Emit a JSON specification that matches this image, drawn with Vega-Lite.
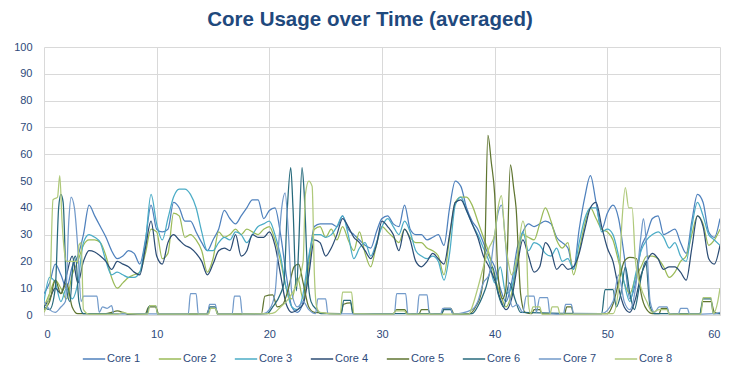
{
"$schema":"https://vega.github.io/schema/vega-lite/v6.json",
"autosize":{"type":"none"},
"width":676,"height":268,
"padding":{"left":44,"top":47,"right":26,"bottom":72},
"background":"white",
"title":{"text":"Core Usage over Time (averaged)","fontSize":20.5,"font":"Liberation Sans, sans-serif","fontWeight":"bold","color":"#1F497D","anchor":"middle","offset":11,"dx":-12},
"data":{"values":[
{"x":0,"c":"Core 1","v":8},{"x":0.5,"c":"Core 1","v":12},{"x":1,"c":"Core 1","v":19},{"x":1.5,"c":"Core 1","v":15},{"x":2,"c":"Core 1","v":10},{"x":2.5,"c":"Core 1","v":18},{"x":3,"c":"Core 1","v":22},{"x":3.5,"c":"Core 1","v":30},{"x":4,"c":"Core 1","v":41},{"x":4.5,"c":"Core 1","v":37},{"x":5,"c":"Core 1","v":33},{"x":5.5,"c":"Core 1","v":29},{"x":6,"c":"Core 1","v":24},{"x":6.5,"c":"Core 1","v":21},{"x":7,"c":"Core 1","v":22},{"x":7.5,"c":"Core 1","v":24},{"x":8,"c":"Core 1","v":23},{"x":8.5,"c":"Core 1","v":19},{"x":9,"c":"Core 1","v":28},{"x":9.5,"c":"Core 1","v":41},{"x":10,"c":"Core 1","v":32},{"x":10.5,"c":"Core 1","v":31},{"x":11,"c":"Core 1","v":32},{"x":11.5,"c":"Core 1","v":42},{"x":12,"c":"Core 1","v":40},{"x":12.5,"c":"Core 1","v":35},{"x":13,"c":"Core 1","v":35},{"x":13.5,"c":"Core 1","v":31},{"x":14,"c":"Core 1","v":27},{"x":14.5,"c":"Core 1","v":24},{"x":15,"c":"Core 1","v":28},{"x":15.5,"c":"Core 1","v":32},{"x":16,"c":"Core 1","v":39},{"x":16.5,"c":"Core 1","v":36},{"x":17,"c":"Core 1","v":34},{"x":17.5,"c":"Core 1","v":37},{"x":18,"c":"Core 1","v":40},{"x":18.5,"c":"Core 1","v":43},{"x":19,"c":"Core 1","v":43},{"x":19.5,"c":"Core 1","v":36},{"x":20,"c":"Core 1","v":39},{"x":20.5,"c":"Core 1","v":40},{"x":21,"c":"Core 1","v":30},{"x":21.5,"c":"Core 1","v":15},{"x":22,"c":"Core 1","v":3},{"x":22.5,"c":"Core 1","v":1},{"x":23,"c":"Core 1","v":5},{"x":23.5,"c":"Core 1","v":20},{"x":24,"c":"Core 1","v":33},{"x":24.5,"c":"Core 1","v":34},{"x":25,"c":"Core 1","v":34},{"x":25.5,"c":"Core 1","v":34},{"x":26,"c":"Core 1","v":33},{"x":26.5,"c":"Core 1","v":37},{"x":27,"c":"Core 1","v":32},{"x":27.5,"c":"Core 1","v":30},{"x":28,"c":"Core 1","v":28},{"x":28.5,"c":"Core 1","v":26},{"x":29,"c":"Core 1","v":25},{"x":29.5,"c":"Core 1","v":31},{"x":30,"c":"Core 1","v":36},{"x":30.5,"c":"Core 1","v":37},{"x":31,"c":"Core 1","v":34},{"x":31.5,"c":"Core 1","v":33},{"x":32,"c":"Core 1","v":41},{"x":32.5,"c":"Core 1","v":32},{"x":33,"c":"Core 1","v":30},{"x":33.5,"c":"Core 1","v":30},{"x":34,"c":"Core 1","v":28},{"x":34.5,"c":"Core 1","v":29},{"x":35,"c":"Core 1","v":30},{"x":35.5,"c":"Core 1","v":26},{"x":36,"c":"Core 1","v":40},{"x":36.5,"c":"Core 1","v":50},{"x":37,"c":"Core 1","v":48},{"x":37.5,"c":"Core 1","v":40},{"x":38,"c":"Core 1","v":35},{"x":38.5,"c":"Core 1","v":32},{"x":39,"c":"Core 1","v":27},{"x":39.5,"c":"Core 1","v":22},{"x":40,"c":"Core 1","v":18},{"x":40.5,"c":"Core 1","v":10},{"x":41,"c":"Core 1","v":5},{"x":41.5,"c":"Core 1","v":12},{"x":42,"c":"Core 1","v":25},{"x":42.5,"c":"Core 1","v":31},{"x":43,"c":"Core 1","v":34},{"x":43.5,"c":"Core 1","v":33},{"x":44,"c":"Core 1","v":34},{"x":44.5,"c":"Core 1","v":35},{"x":45,"c":"Core 1","v":34},{"x":45.5,"c":"Core 1","v":29},{"x":46,"c":"Core 1","v":27},{"x":46.5,"c":"Core 1","v":25},{"x":47,"c":"Core 1","v":17},{"x":47.5,"c":"Core 1","v":32},{"x":48,"c":"Core 1","v":44},{"x":48.5,"c":"Core 1","v":52},{"x":49,"c":"Core 1","v":42},{"x":49.5,"c":"Core 1","v":32},{"x":50,"c":"Core 1","v":38},{"x":50.5,"c":"Core 1","v":41},{"x":51,"c":"Core 1","v":36},{"x":51.5,"c":"Core 1","v":22},{"x":52,"c":"Core 1","v":6},{"x":52.5,"c":"Core 1","v":12},{"x":53,"c":"Core 1","v":25},{"x":53.5,"c":"Core 1","v":30},{"x":54,"c":"Core 1","v":36},{"x":54.5,"c":"Core 1","v":37},{"x":55,"c":"Core 1","v":30},{"x":55.5,"c":"Core 1","v":31},{"x":56,"c":"Core 1","v":32},{"x":56.5,"c":"Core 1","v":27},{"x":57,"c":"Core 1","v":23},{"x":57.5,"c":"Core 1","v":35},{"x":58,"c":"Core 1","v":45},{"x":58.5,"c":"Core 1","v":42},{"x":59,"c":"Core 1","v":31},{"x":59.5,"c":"Core 1","v":29},{"x":60,"c":"Core 1","v":36},

{"x":0,"c":"Core 2","v":3},{"x":0.5,"c":"Core 2","v":8},{"x":1,"c":"Core 2","v":13},{"x":1.5,"c":"Core 2","v":10},{"x":2,"c":"Core 2","v":6},{"x":2.5,"c":"Core 2","v":15},{"x":3,"c":"Core 2","v":20},{"x":3.5,"c":"Core 2","v":26},{"x":4,"c":"Core 2","v":28},{"x":4.5,"c":"Core 2","v":28},{"x":5,"c":"Core 2","v":27},{"x":5.5,"c":"Core 2","v":22},{"x":6,"c":"Core 2","v":14},{"x":6.5,"c":"Core 2","v":10},{"x":7,"c":"Core 2","v":12},{"x":7.5,"c":"Core 2","v":14},{"x":8,"c":"Core 2","v":15},{"x":8.5,"c":"Core 2","v":16},{"x":9,"c":"Core 2","v":23},{"x":9.5,"c":"Core 2","v":32},{"x":10,"c":"Core 2","v":31},{"x":10.5,"c":"Core 2","v":21},{"x":11,"c":"Core 2","v":23},{"x":11.5,"c":"Core 2","v":38},{"x":12,"c":"Core 2","v":37},{"x":12.5,"c":"Core 2","v":29},{"x":13,"c":"Core 2","v":30},{"x":13.5,"c":"Core 2","v":28},{"x":14,"c":"Core 2","v":24},{"x":14.5,"c":"Core 2","v":16},{"x":15,"c":"Core 2","v":21},{"x":15.5,"c":"Core 2","v":31},{"x":16,"c":"Core 2","v":29},{"x":16.5,"c":"Core 2","v":30},{"x":17,"c":"Core 2","v":32},{"x":17.5,"c":"Core 2","v":30},{"x":18,"c":"Core 2","v":32},{"x":18.5,"c":"Core 2","v":31},{"x":19,"c":"Core 2","v":30},{"x":19.5,"c":"Core 2","v":32},{"x":20,"c":"Core 2","v":33},{"x":20.5,"c":"Core 2","v":28},{"x":21,"c":"Core 2","v":20},{"x":21.5,"c":"Core 2","v":10},{"x":22,"c":"Core 2","v":6},{"x":22.5,"c":"Core 2","v":14},{"x":23,"c":"Core 2","v":6},{"x":23.5,"c":"Core 2","v":18},{"x":24,"c":"Core 2","v":32},{"x":24.5,"c":"Core 2","v":33},{"x":25,"c":"Core 2","v":29},{"x":25.5,"c":"Core 2","v":32},{"x":26,"c":"Core 2","v":28},{"x":26.5,"c":"Core 2","v":33},{"x":27,"c":"Core 2","v":28},{"x":27.5,"c":"Core 2","v":24},{"x":28,"c":"Core 2","v":31},{"x":28.5,"c":"Core 2","v":23},{"x":29,"c":"Core 2","v":18},{"x":29.5,"c":"Core 2","v":26},{"x":30,"c":"Core 2","v":33},{"x":30.5,"c":"Core 2","v":31},{"x":31,"c":"Core 2","v":29},{"x":31.5,"c":"Core 2","v":27},{"x":32,"c":"Core 2","v":32},{"x":32.5,"c":"Core 2","v":29},{"x":33,"c":"Core 2","v":27},{"x":33.5,"c":"Core 2","v":27},{"x":34,"c":"Core 2","v":25},{"x":34.5,"c":"Core 2","v":24},{"x":35,"c":"Core 2","v":22},{"x":35.5,"c":"Core 2","v":15},{"x":36,"c":"Core 2","v":29},{"x":36.5,"c":"Core 2","v":42},{"x":37,"c":"Core 2","v":44},{"x":37.5,"c":"Core 2","v":44},{"x":38,"c":"Core 2","v":41},{"x":38.5,"c":"Core 2","v":35},{"x":39,"c":"Core 2","v":29},{"x":39.5,"c":"Core 2","v":23},{"x":40,"c":"Core 2","v":14},{"x":40.5,"c":"Core 2","v":8},{"x":41,"c":"Core 2","v":3},{"x":41.5,"c":"Core 2","v":8},{"x":42,"c":"Core 2","v":20},{"x":42.5,"c":"Core 2","v":30},{"x":43,"c":"Core 2","v":29},{"x":43.5,"c":"Core 2","v":28},{"x":44,"c":"Core 2","v":34},{"x":44.5,"c":"Core 2","v":40},{"x":45,"c":"Core 2","v":35},{"x":45.5,"c":"Core 2","v":28},{"x":46,"c":"Core 2","v":25},{"x":46.5,"c":"Core 2","v":27},{"x":47,"c":"Core 2","v":15},{"x":47.5,"c":"Core 2","v":24},{"x":48,"c":"Core 2","v":34},{"x":48.5,"c":"Core 2","v":40},{"x":49,"c":"Core 2","v":36},{"x":49.5,"c":"Core 2","v":32},{"x":50,"c":"Core 2","v":31},{"x":50.5,"c":"Core 2","v":28},{"x":51,"c":"Core 2","v":20},{"x":51.5,"c":"Core 2","v":12},{"x":52,"c":"Core 2","v":8},{"x":52.5,"c":"Core 2","v":14},{"x":53,"c":"Core 2","v":18},{"x":53.5,"c":"Core 2","v":22},{"x":54,"c":"Core 2","v":22},{"x":54.5,"c":"Core 2","v":21},{"x":55,"c":"Core 2","v":18},{"x":55.5,"c":"Core 2","v":14},{"x":56,"c":"Core 2","v":16},{"x":56.5,"c":"Core 2","v":20},{"x":57,"c":"Core 2","v":22},{"x":57.5,"c":"Core 2","v":30},{"x":58,"c":"Core 2","v":37},{"x":58.5,"c":"Core 2","v":34},{"x":59,"c":"Core 2","v":26},{"x":59.5,"c":"Core 2","v":28},{"x":60,"c":"Core 2","v":32},

{"x":0,"c":"Core 3","v":5},{"x":0.5,"c":"Core 3","v":14},{"x":1,"c":"Core 3","v":12},{"x":1.5,"c":"Core 3","v":5},{"x":2,"c":"Core 3","v":10},{"x":2.5,"c":"Core 3","v":6},{"x":3,"c":"Core 3","v":12},{"x":3.5,"c":"Core 3","v":27},{"x":4,"c":"Core 3","v":30},{"x":4.5,"c":"Core 3","v":29},{"x":5,"c":"Core 3","v":27},{"x":5.5,"c":"Core 3","v":20},{"x":6,"c":"Core 3","v":15},{"x":6.5,"c":"Core 3","v":16},{"x":7,"c":"Core 3","v":15},{"x":7.5,"c":"Core 3","v":14},{"x":8,"c":"Core 3","v":14},{"x":8.5,"c":"Core 3","v":16},{"x":9,"c":"Core 3","v":27},{"x":9.5,"c":"Core 3","v":45},{"x":10,"c":"Core 3","v":34},{"x":10.5,"c":"Core 3","v":28},{"x":11,"c":"Core 3","v":36},{"x":11.5,"c":"Core 3","v":44},{"x":12,"c":"Core 3","v":47},{"x":12.5,"c":"Core 3","v":47},{"x":13,"c":"Core 3","v":45},{"x":13.5,"c":"Core 3","v":40},{"x":14,"c":"Core 3","v":31},{"x":14.5,"c":"Core 3","v":24},{"x":15,"c":"Core 3","v":24},{"x":15.5,"c":"Core 3","v":27},{"x":16,"c":"Core 3","v":29},{"x":16.5,"c":"Core 3","v":28},{"x":17,"c":"Core 3","v":31},{"x":17.5,"c":"Core 3","v":30},{"x":18,"c":"Core 3","v":27},{"x":18.5,"c":"Core 3","v":30},{"x":19,"c":"Core 3","v":33},{"x":19.5,"c":"Core 3","v":34},{"x":20,"c":"Core 3","v":35},{"x":20.5,"c":"Core 3","v":30},{"x":21,"c":"Core 3","v":22},{"x":21.5,"c":"Core 3","v":10},{"x":22,"c":"Core 3","v":3},{"x":22.5,"c":"Core 3","v":2},{"x":23,"c":"Core 3","v":8},{"x":23.5,"c":"Core 3","v":22},{"x":24,"c":"Core 3","v":30},{"x":24.5,"c":"Core 3","v":30},{"x":25,"c":"Core 3","v":29},{"x":25.5,"c":"Core 3","v":30},{"x":26,"c":"Core 3","v":33},{"x":26.5,"c":"Core 3","v":37},{"x":27,"c":"Core 3","v":30},{"x":27.5,"c":"Core 3","v":21},{"x":28,"c":"Core 3","v":25},{"x":28.5,"c":"Core 3","v":27},{"x":29,"c":"Core 3","v":22},{"x":29.5,"c":"Core 3","v":27},{"x":30,"c":"Core 3","v":33},{"x":30.5,"c":"Core 3","v":36},{"x":31,"c":"Core 3","v":33},{"x":31.5,"c":"Core 3","v":30},{"x":32,"c":"Core 3","v":35},{"x":32.5,"c":"Core 3","v":31},{"x":33,"c":"Core 3","v":24},{"x":33.5,"c":"Core 3","v":22},{"x":34,"c":"Core 3","v":21},{"x":34.5,"c":"Core 3","v":22},{"x":35,"c":"Core 3","v":20},{"x":35.5,"c":"Core 3","v":13},{"x":36,"c":"Core 3","v":23},{"x":36.5,"c":"Core 3","v":41},{"x":37,"c":"Core 3","v":44},{"x":37.5,"c":"Core 3","v":39},{"x":38,"c":"Core 3","v":34},{"x":38.5,"c":"Core 3","v":30},{"x":39,"c":"Core 3","v":25},{"x":39.5,"c":"Core 3","v":20},{"x":40,"c":"Core 3","v":12},{"x":40.5,"c":"Core 3","v":18},{"x":41,"c":"Core 3","v":8},{"x":41.5,"c":"Core 3","v":10},{"x":42,"c":"Core 3","v":22},{"x":42.5,"c":"Core 3","v":31},{"x":43,"c":"Core 3","v":24},{"x":43.5,"c":"Core 3","v":27},{"x":44,"c":"Core 3","v":26},{"x":44.5,"c":"Core 3","v":23},{"x":45,"c":"Core 3","v":22},{"x":45.5,"c":"Core 3","v":25},{"x":46,"c":"Core 3","v":20},{"x":46.5,"c":"Core 3","v":21},{"x":47,"c":"Core 3","v":17},{"x":47.5,"c":"Core 3","v":27},{"x":48,"c":"Core 3","v":36},{"x":48.5,"c":"Core 3","v":40},{"x":49,"c":"Core 3","v":40},{"x":49.5,"c":"Core 3","v":31},{"x":50,"c":"Core 3","v":32},{"x":50.5,"c":"Core 3","v":30},{"x":51,"c":"Core 3","v":22},{"x":51.5,"c":"Core 3","v":12},{"x":52,"c":"Core 3","v":5},{"x":52.5,"c":"Core 3","v":15},{"x":53,"c":"Core 3","v":24},{"x":53.5,"c":"Core 3","v":28},{"x":54,"c":"Core 3","v":30},{"x":54.5,"c":"Core 3","v":31},{"x":55,"c":"Core 3","v":29},{"x":55.5,"c":"Core 3","v":25},{"x":56,"c":"Core 3","v":27},{"x":56.5,"c":"Core 3","v":22},{"x":57,"c":"Core 3","v":20},{"x":57.5,"c":"Core 3","v":33},{"x":58,"c":"Core 3","v":42},{"x":58.5,"c":"Core 3","v":37},{"x":59,"c":"Core 3","v":30},{"x":59.5,"c":"Core 3","v":28},{"x":60,"c":"Core 3","v":26},

{"x":0,"c":"Core 4","v":3},{"x":0.5,"c":"Core 4","v":6},{"x":1,"c":"Core 4","v":10},{"x":1.5,"c":"Core 4","v":8},{"x":2,"c":"Core 4","v":15},{"x":2.5,"c":"Core 4","v":22},{"x":3,"c":"Core 4","v":12},{"x":3.5,"c":"Core 4","v":20},{"x":4,"c":"Core 4","v":24},{"x":4.5,"c":"Core 4","v":23.5},{"x":5,"c":"Core 4","v":22},{"x":5.5,"c":"Core 4","v":20},{"x":6,"c":"Core 4","v":17},{"x":6.5,"c":"Core 4","v":20},{"x":7,"c":"Core 4","v":19},{"x":7.5,"c":"Core 4","v":18},{"x":8,"c":"Core 4","v":16},{"x":8.5,"c":"Core 4","v":15},{"x":9,"c":"Core 4","v":25},{"x":9.5,"c":"Core 4","v":35},{"x":10,"c":"Core 4","v":22},{"x":10.5,"c":"Core 4","v":19},{"x":11,"c":"Core 4","v":27},{"x":11.5,"c":"Core 4","v":30},{"x":12,"c":"Core 4","v":28},{"x":12.5,"c":"Core 4","v":26},{"x":13,"c":"Core 4","v":25},{"x":13.5,"c":"Core 4","v":23},{"x":14,"c":"Core 4","v":20},{"x":14.5,"c":"Core 4","v":15},{"x":15,"c":"Core 4","v":19},{"x":15.5,"c":"Core 4","v":24},{"x":16,"c":"Core 4","v":25},{"x":16.5,"c":"Core 4","v":24},{"x":17,"c":"Core 4","v":30},{"x":17.5,"c":"Core 4","v":22},{"x":18,"c":"Core 4","v":24},{"x":18.5,"c":"Core 4","v":30},{"x":19,"c":"Core 4","v":29},{"x":19.5,"c":"Core 4","v":29},{"x":20,"c":"Core 4","v":31},{"x":20.5,"c":"Core 4","v":26},{"x":21,"c":"Core 4","v":15},{"x":21.5,"c":"Core 4","v":4},{"x":22,"c":"Core 4","v":1},{"x":22.5,"c":"Core 4","v":2},{"x":23,"c":"Core 4","v":4},{"x":23.5,"c":"Core 4","v":15},{"x":24,"c":"Core 4","v":28},{"x":24.5,"c":"Core 4","v":27},{"x":25,"c":"Core 4","v":22},{"x":25.5,"c":"Core 4","v":25},{"x":26,"c":"Core 4","v":30},{"x":26.5,"c":"Core 4","v":36},{"x":27,"c":"Core 4","v":33},{"x":27.5,"c":"Core 4","v":29},{"x":28,"c":"Core 4","v":27},{"x":28.5,"c":"Core 4","v":24},{"x":29,"c":"Core 4","v":21},{"x":29.5,"c":"Core 4","v":26},{"x":30,"c":"Core 4","v":35},{"x":30.5,"c":"Core 4","v":33},{"x":31,"c":"Core 4","v":30},{"x":31.5,"c":"Core 4","v":24},{"x":32,"c":"Core 4","v":32},{"x":32.5,"c":"Core 4","v":28},{"x":33,"c":"Core 4","v":20},{"x":33.5,"c":"Core 4","v":18},{"x":34,"c":"Core 4","v":20},{"x":34.5,"c":"Core 4","v":23},{"x":35,"c":"Core 4","v":21},{"x":35.5,"c":"Core 4","v":19},{"x":36,"c":"Core 4","v":30},{"x":36.5,"c":"Core 4","v":42},{"x":37,"c":"Core 4","v":43},{"x":37.5,"c":"Core 4","v":39},{"x":38,"c":"Core 4","v":34},{"x":38.5,"c":"Core 4","v":29},{"x":39,"c":"Core 4","v":22},{"x":39.5,"c":"Core 4","v":18},{"x":40,"c":"Core 4","v":13},{"x":40.5,"c":"Core 4","v":6},{"x":41,"c":"Core 4","v":2},{"x":41.5,"c":"Core 4","v":6},{"x":42,"c":"Core 4","v":18},{"x":42.5,"c":"Core 4","v":28},{"x":43,"c":"Core 4","v":22},{"x":43.5,"c":"Core 4","v":16},{"x":44,"c":"Core 4","v":18},{"x":44.5,"c":"Core 4","v":27},{"x":45,"c":"Core 4","v":24},{"x":45.5,"c":"Core 4","v":17},{"x":46,"c":"Core 4","v":19},{"x":46.5,"c":"Core 4","v":17},{"x":47,"c":"Core 4","v":18},{"x":47.5,"c":"Core 4","v":23},{"x":48,"c":"Core 4","v":32},{"x":48.5,"c":"Core 4","v":40},{"x":49,"c":"Core 4","v":42},{"x":49.5,"c":"Core 4","v":33},{"x":50,"c":"Core 4","v":25},{"x":50.5,"c":"Core 4","v":20},{"x":51,"c":"Core 4","v":10},{"x":51.5,"c":"Core 4","v":3},{"x":52,"c":"Core 4","v":1},{"x":52.5,"c":"Core 4","v":6},{"x":53,"c":"Core 4","v":15},{"x":53.5,"c":"Core 4","v":20},{"x":54,"c":"Core 4","v":23},{"x":54.5,"c":"Core 4","v":21},{"x":55,"c":"Core 4","v":17},{"x":55.5,"c":"Core 4","v":18},{"x":56,"c":"Core 4","v":18},{"x":56.5,"c":"Core 4","v":16},{"x":57,"c":"Core 4","v":13},{"x":57.5,"c":"Core 4","v":25},{"x":58,"c":"Core 4","v":37},{"x":58.5,"c":"Core 4","v":33},{"x":59,"c":"Core 4","v":21},{"x":59.5,"c":"Core 4","v":19},{"x":60,"c":"Core 4","v":26},

{"x":0,"c":"Core 5","v":2},{"x":0.5,"c":"Core 5","v":5},{"x":1,"c":"Core 5","v":13},{"x":1.5,"c":"Core 5","v":8},{"x":2,"c":"Core 5","v":12},{"x":2.5,"c":"Core 5","v":3},{"x":3,"c":"Core 5","v":0.5},{"x":4,"c":"Core 5","v":0.5},{"x":5.5,"c":"Core 5","v":0.5},{"x":6,"c":"Core 5","v":1},{"x":6.5,"c":"Core 5","v":1.5},{"x":7,"c":"Core 5","v":1},{"x":7.5,"c":"Core 5","v":0.2},{"x":9,"c":"Core 5","v":0.5},{"x":9.3,"c":"Core 5","v":3},{"x":9.9,"c":"Core 5","v":3},{"x":10.2,"c":"Core 5","v":0.3},{"x":14.4,"c":"Core 5","v":0.3},{"x":14.7,"c":"Core 5","v":2.5},{"x":15.2,"c":"Core 5","v":2.5},{"x":15.5,"c":"Core 5","v":0.3},{"x":19.3,"c":"Core 5","v":0.5},{"x":19.6,"c":"Core 5","v":7},{"x":20.3,"c":"Core 5","v":7.5},{"x":20.7,"c":"Core 5","v":3},{"x":21.2,"c":"Core 5","v":4},{"x":21.7,"c":"Core 5","v":10},{"x":22.2,"c":"Core 5","v":18},{"x":22.6,"c":"Core 5","v":19},{"x":23,"c":"Core 5","v":12},{"x":23.5,"c":"Core 5","v":3},{"x":24,"c":"Core 5","v":1},{"x":26.3,"c":"Core 5","v":0.5},{"x":26.6,"c":"Core 5","v":4},{"x":27.2,"c":"Core 5","v":4.5},{"x":27.5,"c":"Core 5","v":0.5},{"x":31,"c":"Core 5","v":0.5},{"x":31.3,"c":"Core 5","v":2},{"x":32,"c":"Core 5","v":2},{"x":32.3,"c":"Core 5","v":0.5},{"x":33.3,"c":"Core 5","v":0.5},{"x":33.5,"c":"Core 5","v":2},{"x":34.1,"c":"Core 5","v":2},{"x":34.3,"c":"Core 5","v":0.3},{"x":35.3,"c":"Core 5","v":0.3},{"x":35.5,"c":"Core 5","v":2.5},{"x":36.1,"c":"Core 5","v":2.5},{"x":36.4,"c":"Core 5","v":0.3},{"x":37.8,"c":"Core 5","v":0.5},{"x":38.3,"c":"Core 5","v":3},{"x":38.8,"c":"Core 5","v":8},{"x":39.1,"c":"Core 5","v":20},{"x":39.4,"c":"Core 5","v":67},{"x":39.7,"c":"Core 5","v":57},{"x":40,"c":"Core 5","v":45},{"x":40.3,"c":"Core 5","v":15},{"x":40.7,"c":"Core 5","v":6},{"x":41,"c":"Core 5","v":10},{"x":41.4,"c":"Core 5","v":56},{"x":41.7,"c":"Core 5","v":47},{"x":41.9,"c":"Core 5","v":40},{"x":42.3,"c":"Core 5","v":8},{"x":42.7,"c":"Core 5","v":1},{"x":43.3,"c":"Core 5","v":0.5},{"x":43.5,"c":"Core 5","v":2},{"x":44,"c":"Core 5","v":2},{"x":44.2,"c":"Core 5","v":0.5},{"x":46.2,"c":"Core 5","v":0.5},{"x":46.4,"c":"Core 5","v":3},{"x":46.8,"c":"Core 5","v":3},{"x":47,"c":"Core 5","v":0.5},{"x":50,"c":"Core 5","v":0.5},{"x":50.5,"c":"Core 5","v":4},{"x":51,"c":"Core 5","v":12},{"x":51.5,"c":"Core 5","v":20},{"x":52,"c":"Core 5","v":21.5},{"x":52.6,"c":"Core 5","v":21},{"x":53,"c":"Core 5","v":8},{"x":53.5,"c":"Core 5","v":2},{"x":54,"c":"Core 5","v":0.5},{"x":54.6,"c":"Core 5","v":0.5},{"x":54.8,"c":"Core 5","v":2.5},{"x":55.3,"c":"Core 5","v":2.5},{"x":55.5,"c":"Core 5","v":0.3},{"x":58.2,"c":"Core 5","v":0.3},{"x":58.5,"c":"Core 5","v":5},{"x":59.2,"c":"Core 5","v":5},{"x":59.5,"c":"Core 5","v":1},{"x":60,"c":"Core 5","v":0.5},

{"x":0,"c":"Core 6","v":3},{"x":0.5,"c":"Core 6","v":2},{"x":1,"c":"Core 6","v":10},{"x":1.3,"c":"Core 6","v":40},{"x":1.5,"c":"Core 6","v":45},{"x":1.7,"c":"Core 6","v":42},{"x":2,"c":"Core 6","v":10},{"x":2.3,"c":"Core 6","v":5},{"x":2.6,"c":"Core 6","v":20},{"x":2.8,"c":"Core 6","v":22},{"x":3.1,"c":"Core 6","v":5},{"x":3.5,"c":"Core 6","v":0.5},{"x":9.1,"c":"Core 6","v":0.5},{"x":9.4,"c":"Core 6","v":3.5},{"x":9.9,"c":"Core 6","v":3.5},{"x":10.1,"c":"Core 6","v":0.3},{"x":14.5,"c":"Core 6","v":0.3},{"x":14.7,"c":"Core 6","v":3},{"x":15.2,"c":"Core 6","v":3},{"x":15.4,"c":"Core 6","v":0.3},{"x":19.8,"c":"Core 6","v":0.5},{"x":20.3,"c":"Core 6","v":3},{"x":21,"c":"Core 6","v":8},{"x":21.3,"c":"Core 6","v":12},{"x":21.6,"c":"Core 6","v":40},{"x":21.9,"c":"Core 6","v":55},{"x":22.1,"c":"Core 6","v":40},{"x":22.4,"c":"Core 6","v":9},{"x":22.6,"c":"Core 6","v":25},{"x":22.9,"c":"Core 6","v":55},{"x":23.1,"c":"Core 6","v":45},{"x":23.4,"c":"Core 6","v":15},{"x":23.7,"c":"Core 6","v":5},{"x":24.2,"c":"Core 6","v":2},{"x":24.6,"c":"Core 6","v":0.5},{"x":26.4,"c":"Core 6","v":0.5},{"x":26.6,"c":"Core 6","v":5.5},{"x":27.2,"c":"Core 6","v":5.5},{"x":27.4,"c":"Core 6","v":0.5},{"x":35.3,"c":"Core 6","v":0.5},{"x":35.5,"c":"Core 6","v":2},{"x":36.1,"c":"Core 6","v":2},{"x":36.3,"c":"Core 6","v":0.3},{"x":38,"c":"Core 6","v":0.5},{"x":38.6,"c":"Core 6","v":4},{"x":39.2,"c":"Core 6","v":10},{"x":39.8,"c":"Core 6","v":18},{"x":40.3,"c":"Core 6","v":8},{"x":40.8,"c":"Core 6","v":3},{"x":41.3,"c":"Core 6","v":12},{"x":41.8,"c":"Core 6","v":6},{"x":42.3,"c":"Core 6","v":1},{"x":49.5,"c":"Core 6","v":0.5},{"x":49.8,"c":"Core 6","v":9.5},{"x":50.5,"c":"Core 6","v":9.5},{"x":50.8,"c":"Core 6","v":3},{"x":51.2,"c":"Core 6","v":8},{"x":51.6,"c":"Core 6","v":18},{"x":52,"c":"Core 6","v":8},{"x":52.4,"c":"Core 6","v":2},{"x":52.9,"c":"Core 6","v":12},{"x":53.4,"c":"Core 6","v":20},{"x":53.8,"c":"Core 6","v":3},{"x":54.2,"c":"Core 6","v":0.5},{"x":58.2,"c":"Core 6","v":0.5},{"x":58.5,"c":"Core 6","v":6},{"x":59.2,"c":"Core 6","v":6},{"x":59.4,"c":"Core 6","v":0.5},{"x":60,"c":"Core 6","v":0.5},

{"x":0,"c":"Core 7","v":5},{"x":0.5,"c":"Core 7","v":2},{"x":1,"c":"Core 7","v":1},{"x":1.5,"c":"Core 7","v":3},{"x":1.9,"c":"Core 7","v":5},{"x":2.2,"c":"Core 7","v":35},{"x":2.4,"c":"Core 7","v":44},{"x":2.7,"c":"Core 7","v":40},{"x":3,"c":"Core 7","v":25},{"x":3.3,"c":"Core 7","v":5},{"x":3.5,"c":"Core 7","v":7},{"x":4.7,"c":"Core 7","v":7},{"x":4.9,"c":"Core 7","v":1},{"x":5.2,"c":"Core 7","v":3},{"x":5.6,"c":"Core 7","v":2.5},{"x":6,"c":"Core 7","v":3.5},{"x":6.2,"c":"Core 7","v":0.5},{"x":12.8,"c":"Core 7","v":0.3},{"x":13,"c":"Core 7","v":8},{"x":13.5,"c":"Core 7","v":8},{"x":13.7,"c":"Core 7","v":0.3},{"x":14.5,"c":"Core 7","v":0.3},{"x":14.7,"c":"Core 7","v":4},{"x":15.2,"c":"Core 7","v":4},{"x":15.4,"c":"Core 7","v":0.3},{"x":16.7,"c":"Core 7","v":0.3},{"x":16.9,"c":"Core 7","v":7},{"x":17.4,"c":"Core 7","v":7},{"x":17.6,"c":"Core 7","v":0.3},{"x":19.5,"c":"Core 7","v":0.5},{"x":20,"c":"Core 7","v":2},{"x":20.5,"c":"Core 7","v":8},{"x":20.8,"c":"Core 7","v":25},{"x":21.1,"c":"Core 7","v":40},{"x":21.4,"c":"Core 7","v":45.6},{"x":21.7,"c":"Core 7","v":30},{"x":22,"c":"Core 7","v":8},{"x":22.5,"c":"Core 7","v":3},{"x":23,"c":"Core 7","v":5},{"x":23.5,"c":"Core 7","v":2},{"x":24.1,"c":"Core 7","v":0.5},{"x":24.3,"c":"Core 7","v":6},{"x":25,"c":"Core 7","v":6},{"x":25.2,"c":"Core 7","v":0.5},{"x":31.1,"c":"Core 7","v":0.3},{"x":31.3,"c":"Core 7","v":8},{"x":32.1,"c":"Core 7","v":8},{"x":32.3,"c":"Core 7","v":0.5},{"x":33.1,"c":"Core 7","v":0.3},{"x":33.3,"c":"Core 7","v":7.5},{"x":34,"c":"Core 7","v":7.5},{"x":34.2,"c":"Core 7","v":0.5},{"x":35.2,"c":"Core 7","v":0.3},{"x":35.4,"c":"Core 7","v":2.5},{"x":36.1,"c":"Core 7","v":2.5},{"x":36.3,"c":"Core 7","v":0.3},{"x":38,"c":"Core 7","v":2},{"x":38.5,"c":"Core 7","v":5},{"x":39,"c":"Core 7","v":12},{"x":39.5,"c":"Core 7","v":15},{"x":40,"c":"Core 7","v":30},{"x":40.3,"c":"Core 7","v":38},{"x":40.6,"c":"Core 7","v":41},{"x":41,"c":"Core 7","v":25},{"x":41.3,"c":"Core 7","v":8},{"x":41.6,"c":"Core 7","v":3},{"x":42,"c":"Core 7","v":4},{"x":42.5,"c":"Core 7","v":1},{"x":42.8,"c":"Core 7","v":7},{"x":43.5,"c":"Core 7","v":7},{"x":43.7,"c":"Core 7","v":1},{"x":44,"c":"Core 7","v":6.5},{"x":44.7,"c":"Core 7","v":6.5},{"x":44.9,"c":"Core 7","v":0.5},{"x":46.1,"c":"Core 7","v":0.3},{"x":46.3,"c":"Core 7","v":4},{"x":46.8,"c":"Core 7","v":4},{"x":47,"c":"Core 7","v":0.5},{"x":49.5,"c":"Core 7","v":0.5},{"x":50.5,"c":"Core 7","v":5},{"x":51,"c":"Core 7","v":15},{"x":51.5,"c":"Core 7","v":5},{"x":52,"c":"Core 7","v":2},{"x":52.5,"c":"Core 7","v":10},{"x":53,"c":"Core 7","v":30},{"x":53.2,"c":"Core 7","v":36},{"x":53.5,"c":"Core 7","v":25},{"x":53.8,"c":"Core 7","v":5},{"x":54.2,"c":"Core 7","v":1},{"x":54.6,"c":"Core 7","v":3},{"x":55.3,"c":"Core 7","v":3},{"x":55.5,"c":"Core 7","v":0.5},{"x":56.3,"c":"Core 7","v":0.3},{"x":56.5,"c":"Core 7","v":2.5},{"x":57.1,"c":"Core 7","v":2.5},{"x":57.3,"c":"Core 7","v":0.3},{"x":59.5,"c":"Core 7","v":0.5},{"x":60,"c":"Core 7","v":1},

{"x":0,"c":"Core 8","v":1},{"x":0.5,"c":"Core 8","v":8},{"x":0.8,"c":"Core 8","v":43},{"x":1.2,"c":"Core 8","v":44},{"x":1.4,"c":"Core 8","v":52},{"x":1.6,"c":"Core 8","v":35},{"x":1.8,"c":"Core 8","v":24},{"x":2,"c":"Core 8","v":20},{"x":2.5,"c":"Core 8","v":20},{"x":3,"c":"Core 8","v":20},{"x":3.1,"c":"Core 8","v":26},{"x":3.3,"c":"Core 8","v":27},{"x":3.5,"c":"Core 8","v":2},{"x":4,"c":"Core 8","v":0.3},{"x":6.5,"c":"Core 8","v":0.3},{"x":7,"c":"Core 8","v":1},{"x":7.5,"c":"Core 8","v":0.5},{"x":9.2,"c":"Core 8","v":0.3},{"x":9.4,"c":"Core 8","v":3.5},{"x":9.9,"c":"Core 8","v":3.5},{"x":10.1,"c":"Core 8","v":0.3},{"x":14.6,"c":"Core 8","v":0.3},{"x":14.8,"c":"Core 8","v":2.5},{"x":15.2,"c":"Core 8","v":2.5},{"x":15.4,"c":"Core 8","v":0.3},{"x":20,"c":"Core 8","v":0.5},{"x":20.5,"c":"Core 8","v":1},{"x":21,"c":"Core 8","v":3},{"x":21.5,"c":"Core 8","v":5},{"x":22,"c":"Core 8","v":8},{"x":22.5,"c":"Core 8","v":12},{"x":23,"c":"Core 8","v":20},{"x":23.2,"c":"Core 8","v":45},{"x":23.5,"c":"Core 8","v":50},{"x":23.8,"c":"Core 8","v":48},{"x":24,"c":"Core 8","v":15},{"x":24.2,"c":"Core 8","v":3},{"x":24.5,"c":"Core 8","v":1},{"x":26.3,"c":"Core 8","v":0.3},{"x":26.5,"c":"Core 8","v":8.5},{"x":27.3,"c":"Core 8","v":8.5},{"x":27.5,"c":"Core 8","v":0.5},{"x":31,"c":"Core 8","v":0.3},{"x":31.2,"c":"Core 8","v":1.5},{"x":32,"c":"Core 8","v":1.5},{"x":32.2,"c":"Core 8","v":0.3},{"x":37.7,"c":"Core 8","v":0.3},{"x":38,"c":"Core 8","v":3},{"x":38.5,"c":"Core 8","v":10},{"x":39,"c":"Core 8","v":18},{"x":39.5,"c":"Core 8","v":25},{"x":40,"c":"Core 8","v":30},{"x":40.3,"c":"Core 8","v":40},{"x":40.6,"c":"Core 8","v":44.5},{"x":40.9,"c":"Core 8","v":30},{"x":41.2,"c":"Core 8","v":20},{"x":41.5,"c":"Core 8","v":15},{"x":42,"c":"Core 8","v":22},{"x":42.5,"c":"Core 8","v":35},{"x":42.8,"c":"Core 8","v":28},{"x":43,"c":"Core 8","v":4},{"x":43.2,"c":"Core 8","v":0.5},{"x":43.4,"c":"Core 8","v":3},{"x":44,"c":"Core 8","v":3},{"x":44.2,"c":"Core 8","v":0.3},{"x":44.9,"c":"Core 8","v":0.3},{"x":45.1,"c":"Core 8","v":3},{"x":45.6,"c":"Core 8","v":3},{"x":45.8,"c":"Core 8","v":0.3},{"x":50.5,"c":"Core 8","v":0.5},{"x":51,"c":"Core 8","v":10},{"x":51.3,"c":"Core 8","v":35},{"x":51.6,"c":"Core 8","v":47.5},{"x":51.9,"c":"Core 8","v":40},{"x":52.2,"c":"Core 8","v":40},{"x":52.5,"c":"Core 8","v":20},{"x":53,"c":"Core 8","v":10},{"x":53.5,"c":"Core 8","v":5},{"x":54,"c":"Core 8","v":1},{"x":54.6,"c":"Core 8","v":2},{"x":55.3,"c":"Core 8","v":2},{"x":55.5,"c":"Core 8","v":0.3},{"x":58.3,"c":"Core 8","v":0.3},{"x":58.5,"c":"Core 8","v":6.5},{"x":59.2,"c":"Core 8","v":6.5},{"x":59.4,"c":"Core 8","v":0.5},{"x":59.8,"c":"Core 8","v":5},{"x":60,"c":"Core 8","v":10}
]},
"mark":{"type":"line","interpolate":"monotone","strokeWidth":1.25,"clip":true},
"encoding":{
"x":{"field":"x","type":"quantitative","scale":{"domain":[0,60],"nice":false},"axis":{"values":[0,10,20,30,40,50,60],"title":null,"grid":true,"gridColor":"#D9D9D9","domainColor":"#D9D9D9","ticks":false,"labelColor":"#2E4A7A","labelFontSize":11,"labelPadding":13,"labelFont":"Liberation Sans, sans-serif"}},
"y":{"field":"v","type":"quantitative","scale":{"domain":[0,100],"nice":false},"axis":{"values":[0,10,20,30,40,50,60,70,80,90,100],"title":null,"grid":true,"gridColor":"#D9D9D9","domain":false,"ticks":false,"labelColor":"#2E4A7A","labelFontSize":11,"labelPadding":12,"labelFont":"Liberation Sans, sans-serif"}},
"color":{"field":"c","type":"nominal","scale":{"domain":["Core 1","Core 2","Core 3","Core 4","Core 5","Core 6","Core 7","Core 8"],"range":["#4F81BD","#9BBB59","#4BACC6","#2C4D75","#5F7530","#276A7C","#729ACA","#AFC97A"]},
"legend":{"title":null,"orient":"none","legendX":38,"legendY":300,"direction":"horizontal","columns":8,"symbolType":"stroke","symbolSize":500,"symbolStrokeWidth":1.5,"labelColor":"#2E4A7A","labelFontSize":11,"labelFont":"Liberation Sans, sans-serif","labelOffset":1,"columnPadding":14}}
},
"config":{"view":{"stroke":null}}
}
